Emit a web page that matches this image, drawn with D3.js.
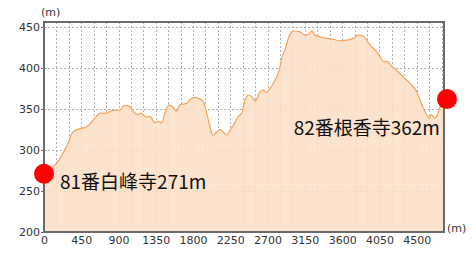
<!DOCTYPE html>
<html>
<head>
<meta charset="utf-8">
<script src="https://cdn.jsdelivr.net/npm/d3@7"></script>
<style>
  body { margin: 0; background: #fff; }
  svg { display: block; font-family: "DejaVu Sans", Verdana, sans-serif; }
</style>
</head>
<body>
<svg id="chart" width="473" height="260"></svg>
<script>
// distance along route (m) and elevation (m)
const dist = [0, 97, 145, 217, 290, 350, 435, 507, 555, 616, 676, 760, 821, 918, 966, 1014, 1050, 1087, 1135, 1171,
  1207, 1244, 1280, 1340, 1380, 1421, 1461, 1509, 1561, 1602, 1642, 1723, 1783, 1823, 1884, 1923, 1965, 2004, 2044, 2085,
  2125, 2165, 2206, 2246, 2286, 2346, 2387, 2427, 2467, 2527, 2548, 2608, 2648, 2689, 2729, 2789, 2829, 2850, 2870, 2910,
  2950, 2991, 3031, 3091, 3131, 3172, 3212, 3232, 3272, 3332, 3413, 3493, 3574, 3655, 3735, 3795, 3855, 3896, 3936, 3997,
  4057, 4097, 4138, 4198, 4278, 4359, 4440, 4500, 4540, 4580, 4621, 4649, 4681, 4713, 4742, 4769, 4794, 4830]
const elev = [271, 278, 283, 294, 308, 322, 326, 328, 332, 339, 345, 345, 348, 349, 354, 354, 351, 346, 343, 345,
  342, 340, 341, 333, 335, 333, 345, 355, 352, 347, 355, 357, 363, 364, 362, 359, 345, 328, 318, 322,
  325, 322, 318, 324, 330, 341, 345, 361, 367, 363, 359, 371, 373, 370, 375, 385, 394, 402, 412, 422,
  436, 444, 445, 444, 441, 440, 443, 445, 440, 438, 436, 435, 433, 434, 436, 440, 439, 434, 428, 422,
  414, 408, 408, 402, 395, 387, 379, 371, 361, 351, 343, 339, 343, 339, 341, 349, 355, 362]

// temples at both ends
const stationNames = ['81番白峰寺271m', '82番根香寺362m']
const stationDist = [0, 4866]
const stationElev = [271, 362]

const xTicks = [0, 450, 900, 1350, 1800, 2250, 2700, 3150, 3600, 4050, 4500]
const yTicks = [200, 250, 300, 350, 400, 450]

const margin = {top: 22, right: 29, bottom: 28, left: 44}
const width = 473, height = 260

const svg = d3.select('#chart')

const x = d3.scaleLinear().domain([0, 4830]).range([margin.left, width - margin.right])
const y = d3.scaleLinear().domain([200, 456]).range([height - margin.bottom, margin.top])

const data = dist.map((d, i) => ({d: d, e: elev[i]}))

// grid
const grid = svg.append('g').attr('stroke', '#b0b0b0').attr('stroke-dasharray', '2,2').attr('stroke-width', 1)
grid.selectAll('line.v')
  .data(d3.range(150, 4830, 150))
  .join('line')
    .attr('x1', d => Math.round(x(d)) + 0.5).attr('x2', d => Math.round(x(d)) + 0.5)
    .attr('y1', y.range()[0]).attr('y2', y.range()[1])
grid.selectAll('line.h')
  .data(yTicks.slice(1))
  .join('line')
    .attr('y1', d => Math.round(y(d)) + 0.5).attr('y2', d => Math.round(y(d)) + 0.5)
    .attr('x1', x.range()[0]).attr('x2', x.range()[1])

// profile
const area = d3.area().x(d => x(d.d)).y0(y(200)).y1(d => y(d.e)).curve(d3.curveMonotoneX)
const line = d3.line().x(d => x(d.d)).y(d => y(d.e)).curve(d3.curveMonotoneX)

svg.append('path').datum(data).attr('d', area).attr('fill', '#fcdfc6').attr('fill-opacity', 0.88)
svg.append('path').datum(data).attr('d', line).attr('fill', 'none').attr('stroke', '#f3a35c').attr('stroke-width', 1.2)

// frame
svg.append('rect')
  .attr('x', x.range()[0]).attr('y', y.range()[1])
  .attr('width', x.range()[1] - x.range()[0]).attr('height', y.range()[0] - y.range()[1])
  .attr('fill', 'none').attr('stroke', '#6b6b6b').attr('stroke-width', 2)

// axes
const xAxis = svg.append('g')
  .attr('transform', 'translate(0,' + y(200) + ')')
  .call(d3.axisBottom(x).tickValues(xTicks).tickFormat(d3.format('d')).tickSize(0).tickPadding(4))
const yAxis = svg.append('g')
  .attr('transform', 'translate(' + x(0) + ',0)')
  .call(d3.axisLeft(y).tickValues(yTicks).tickSize(3).tickPadding(1))
;[xAxis, yAxis].forEach(g => {
  g.select('.domain').remove()
  g.selectAll('line').attr('stroke', '#6b6b6b')
  g.selectAll('text').attr('fill', '#333').style('font-size', '11px').style('font-family', '"DejaVu Sans", Verdana, sans-serif')
})

svg.append('text').attr('x', 41).attr('y', 16).text('(m)')
  .attr('fill', '#333').style('font-size', '11px')
svg.append('text').attr('x', 447).attr('y', 232).text('(m)')
  .attr('fill', '#333').style('font-size', '11px')

// temple markers
svg.append('g').selectAll('circle')
  .data(stationDist)
  .join('circle')
    .attr('cx', d => x(d)).attr('cy', (d, i) => y(stationElev[i]))
    .attr('r', 10).attr('fill', '#ff0000')

const labelPos = [{dx: 16, dy: 15, anchor: 'start'}, {dx: -7, dy: 36, anchor: 'end'}]
svg.append('g').selectAll('text')
  .data(stationNames)
  .join('text')
    .attr('x', (d, i) => x(stationDist[i]) + labelPos[i].dx)
    .attr('y', (d, i) => y(stationElev[i]) + labelPos[i].dy)
    .attr('text-anchor', (d, i) => labelPos[i].anchor)
    .attr('fill', '#111')
    .style('font-family', '"Noto Sans CJK JP", sans-serif')
    .style('font-size', '19px')
    .text(d => d)
</script>
</body>
</html>
